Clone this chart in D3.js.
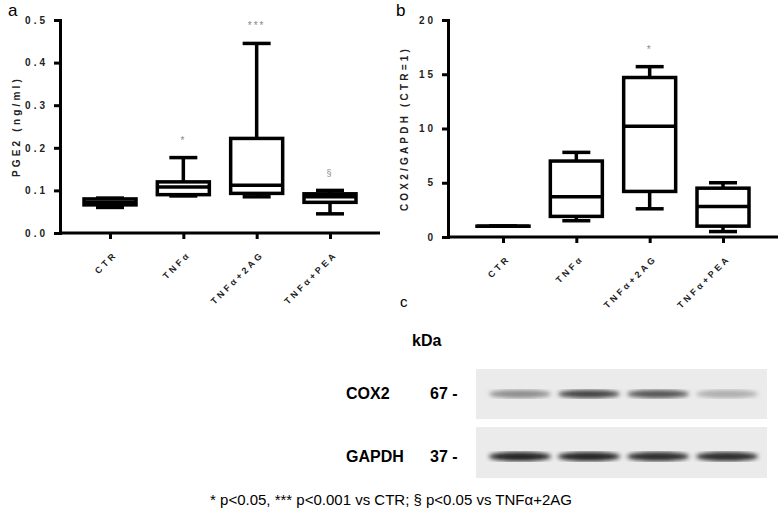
<!DOCTYPE html>
<html><head><meta charset="utf-8">
<script src="https://cdnjs.cloudflare.com/ajax/libs/d3/7.8.5/d3.min.js"></script>
<style>body{margin:0;background:#fff}</style></head>
<body><svg id="c" width="782" height="516"></svg>
<script>
var groups = ["CTR", "TNF\u03b1", "TNF\u03b1+2AG", "TNF\u03b1+PEA"];
// [min, q1, median, q3, max]
var pge2 = [[0.060, 0.066, 0.072, 0.080, 0.082], [0.087, 0.090, 0.108, 0.120, 0.177],
            [0.085, 0.093, 0.112, 0.222, 0.445], [0.045, 0.072, 0.085, 0.092, 0.100]];
var cox2 = [[1, 1, 1, 1, 1], [1.5, 1.9, 3.7, 7.0, 7.8],
            [2.6, 4.2, 10.2, 14.7, 15.7], [0.5, 1.0, 2.8, 4.5, 5.0]];
var pgeMarks = ["", "*", "***", "\u00a7"];
var coxMarks = ["", "", "*", ""];
var pgeTicks = [0, 0.1, 0.2, 0.3, 0.4, 0.5];
var coxTicks = [0, 5, 10, 15, 20];
var cox2Band = [0.45, 0.8, 0.72, 0.3];
var gapdhBand = [0.95, 0.95, 0.9, 0.9];
var footnote = "* p<0.05, *** p<0.001 vs CTR; \u00a7 p<0.05 vs TNF\u03b1+2AG";

var svg = d3.select("#c");
var font = "Arial, 'Liberation Sans', sans-serif";

function panel(o) {
  var g = svg.append("g");
  var x = d3.scalePoint().domain(groups).range([o.x0 + o.pad, o.x1 - o.pad]);
  var y = d3.scaleLinear().domain([0, o.max]).range([o.yb, o.yt]);
  var ya = g.append("g").attr("transform", "translate(" + o.x0 + ",0)")
    .call(d3.axisLeft(y).tickValues(o.ticks).tickSize(6).tickPadding(6).tickFormat(o.fmt));
  var xa = g.append("g").attr("transform", "translate(0," + o.yb + ")")
    .call(d3.axisBottom(x).tickSize(6).tickFormat(""));
  xa.select(".domain").attr("d", "M" + o.x0 + ",0H" + o.x1);
  [ya, xa].forEach(function (a) {
    a.selectAll("path,line").attr("stroke", "#000").attr("stroke-width", 3);
    a.selectAll("text").attr("font-family", font).attr("font-weight", "bold")
      .attr("font-size", 10).attr("letter-spacing", 3).attr("fill", "#222");
  });
  g.selectAll(".xl").data(groups).enter().append("text")
    .attr("transform", function (d) { return "translate(" + (x(d) + 8) + "," + (o.yb + 22) + ") rotate(-45)"; })
    .attr("text-anchor", "end").attr("font-family", font).attr("font-weight", "bold")
    .attr("font-size", 9).attr("letter-spacing", 3).attr("fill", "#222").text(function (d) { return d; });
  g.append("text").attr("transform", "translate(" + (o.x0 - 40) + "," + ((o.yt + o.yb) / 2) + ") rotate(-90)")
    .attr("text-anchor", "middle").attr("font-family", font).attr("font-weight", "bold")
    .attr("font-size", 10).attr("letter-spacing", 3.2).attr("fill", "#222").text(o.label);
  g.append("text").attr("x", o.x0 - 52).attr("y", o.yt - 4).attr("font-family", font)
    .attr("font-size", 17).text(o.letter);
  var w = 52, cw = 28;
  var b = g.selectAll(".box").data(o.data).enter().append("g")
    .attr("transform", function (d, i) { return "translate(" + x(groups[i]) + ",0)"; });
  b.append("line").attr("y1", function (d) { return y(d[0]); }).attr("y2", function (d) { return y(d[4]); })
    .attr("stroke", "#000").attr("stroke-width", 3.5);
  b.selectAll(".cap").data(function (d) { return [d[0], d[4]]; }).enter().append("line")
    .attr("x1", -cw / 2).attr("x2", cw / 2).attr("y1", function (v) { return y(v); }).attr("y2", function (v) { return y(v); })
    .attr("stroke", "#000").attr("stroke-width", 3.5);
  b.append("rect").attr("x", -w / 2).attr("width", w)
    .attr("y", function (d) { return y(d[3]); })
    .attr("height", function (d) { return Math.max(0.1, y(d[1]) - y(d[3])); })
    .attr("fill", "#fff").attr("stroke", "#000").attr("stroke-width", 3.5);
  b.append("line").attr("x1", -w / 2).attr("x2", w / 2)
    .attr("y1", function (d) { return y(d[2]); }).attr("y2", function (d) { return y(d[2]); })
    .attr("stroke", "#000").attr("stroke-width", 3.5);
  b.append("text").attr("text-anchor", "middle").attr("font-family", font)
    .attr("font-size", function (d, i) { return o.marks[i] === "\u00a7" ? 9 : 10; }).attr("fill", "#888")
    .attr("letter-spacing", 2)
    .attr("y", function (d) { return y(d[4]) - 14; })
    .text(function (d, i) { return o.marks[i]; });
}

panel({ x0: 60, x1: 380, yt: 20, yb: 233, pad: 50, max: 0.5, ticks: pgeTicks, data: pge2, marks: pgeMarks,
  fmt: function (d) { return d.toFixed(1); }, label: "PGE2 (ng/ml)", letter: "a" });
panel({ x0: 448, x1: 778, yt: 20, yb: 237, pad: 55, max: 20, ticks: coxTicks, data: cox2, marks: coxMarks,
  fmt: function (d) { return String(d); }, label: "COX2/GAPDH (CTR=1)", letter: "b" });

// panel c: western blot
var defs = svg.append("defs");
defs.append("filter").attr("id", "blur").append("feGaussianBlur").attr("stdDeviation", 2.2);
svg.append("text").attr("x", 400).attr("y", 307).attr("font-family", font).attr("font-size", 15).text("c");
svg.append("text").attr("x", 412).attr("y", 346).attr("font-family", font).attr("font-weight", "bold")
  .attr("font-size", 16).text("kDa");
var lane = d3.scaleBand().domain(groups).range([482, 765]).padding(0.1);
var shade = d3.scaleLinear().domain([0, 1]).range(["#eeeeee", "#151515"]);
[{ name: "COX2", kda: "67 -", y0: 369, y1: 419, vals: cox2Band, bh: 6 },
 { name: "GAPDH", kda: "37 -", y0: 427, y1: 478, vals: gapdhBand, bh: 7 }].forEach(function (r) {
  var mid = (r.y0 + r.y1) / 2 + (r.name === "GAPDH" ? 4 : 0);
  svg.append("rect").attr("x", 476).attr("y", r.y0).attr("width", 291).attr("height", r.y1 - r.y0).attr("fill", "#ebebeb");
  svg.append("text").attr("x", 346).attr("y", mid + 5).attr("font-family", font).attr("font-weight", "bold")
    .attr("font-size", 16).text(r.name);
  svg.append("text").attr("x", 430).attr("y", mid + 5).attr("font-family", font).attr("font-weight", "bold")
    .attr("font-size", 16).text(r.kda);
  svg.selectAll(null).data(r.vals).enter().append("ellipse")
    .attr("cx", function (d, i) { return lane(groups[i]) + lane.bandwidth() / 2; })
    .attr("cy", mid).attr("rx", lane.bandwidth() / 2).attr("ry", r.bh / 2 + 1)
    .attr("fill", function (d) { return shade(d); }).attr("filter", "url(#blur)");
});
svg.append("text").attr("x", 391).attr("y", 505).attr("text-anchor", "middle").attr("font-family", font)
  .attr("font-size", 15).text(footnote);
</script></body></html>
